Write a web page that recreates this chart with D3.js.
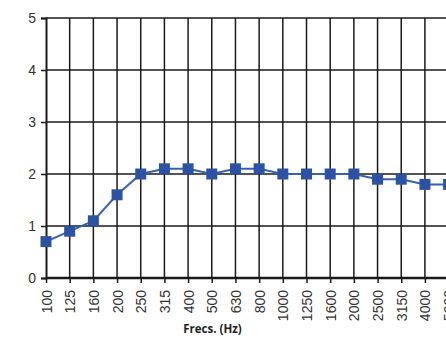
<!DOCTYPE html>
<html><head><meta charset="utf-8">
<script src="https://cdn.jsdelivr.net/npm/d3@7"></script>
<style>body{margin:0;background:#fff}svg{display:block}</style>
</head><body>
<script>
const categories = ["100","125","160","200","250","315","400","500","630","800","1000","1250","1600","2000","2500","3150","4000","5000"];
const values = [0.7,0.9,1.1,1.6,2.0,2.1,2.1,2.0,2.1,2.1,2.0,2.0,2.0,2.0,1.9,1.9,1.8,1.8];
const yTicks = [0,1,2,3,4,5];
const xTitle = "Frecs. (Hz)";

const W = 446, H = 338;
const svg = d3.select("body").append("svg").attr("width", W).attr("height", H);
const x = d3.scalePoint().domain(categories).range([46, 448.6]);
const y = d3.scaleLinear().domain([0,5]).range([278, 18]);
const gridColor = "#1a1a1a";

// horizontal grid
svg.append("g").selectAll("line").data(yTicks.filter(d => d > 0)).join("line")
  .attr("x1", 46).attr("x2", W + 20)
  .attr("y1", d => y(d)).attr("y2", d => y(d))
  .attr("stroke", gridColor).attr("stroke-width", 1.5);
// vertical grid
svg.append("g").selectAll("line").data(categories.slice(1)).join("line")
  .attr("x1", d => x(d)).attr("x2", d => x(d))
  .attr("y1", y(5)).attr("y2", y(0))
  .attr("stroke", gridColor).attr("stroke-width", 1.5);

// y axis
const yAxis = svg.append("g").attr("transform", "translate(46,0)")
  .call(d3.axisLeft(y).tickValues(yTicks).tickSize(5).tickFormat(d3.format("d")));
yAxis.select(".domain").attr("stroke", gridColor).attr("stroke-width", 2);
yAxis.selectAll(".tick line").attr("stroke", gridColor).attr("stroke-width", 1.5);
yAxis.selectAll("text").attr("font-family", "Liberation Sans, Arial, sans-serif")
  .attr("font-size", 14).attr("fill", "#333").attr("x", -10);

// x axis
const xAxis = svg.append("g").attr("transform", `translate(0,${y(0)})`)
  .call(d3.axisBottom(x).tickSize(5).tickSizeOuter(0));
xAxis.select(".domain").attr("stroke", gridColor).attr("stroke-width", 2.5).attr("d", `M46,0H${W+20}`);
xAxis.selectAll(".tick line").attr("stroke", gridColor).attr("stroke-width", 1.5);
xAxis.selectAll("text")
  .attr("font-family", "Liberation Sans, Arial, sans-serif")
  .attr("font-size", 14).attr("fill", "#333")
  .attr("text-anchor", "end")
  .attr("transform", "rotate(-90)")
  .attr("x", -12).attr("y", 0).attr("dy", "0.36em");

// title
svg.append("text").attr("x", 212.5).attr("y", 333).attr("text-anchor", "middle")
  .attr("font-family", "Open Sans, sans-serif").attr("font-weight", "bold")
  .attr("font-size", 11.5).attr("fill", "#222").text(xTitle);

// line
const line = d3.line().x((d,i) => x(categories[i])).y(d => y(d));
svg.append("path").datum(values).attr("d", line)
  .attr("fill", "none").attr("stroke", "#3a5fb0").attr("stroke-width", 2);
// markers
const ms = 11;
svg.append("g").selectAll("rect").data(values).join("rect")
  .attr("x", (d,i) => x(categories[i]) - ms/2).attr("y", d => y(d) - ms/2)
  .attr("width", ms).attr("height", ms).attr("fill", "#2c52a6");
</script>
</body></html>
